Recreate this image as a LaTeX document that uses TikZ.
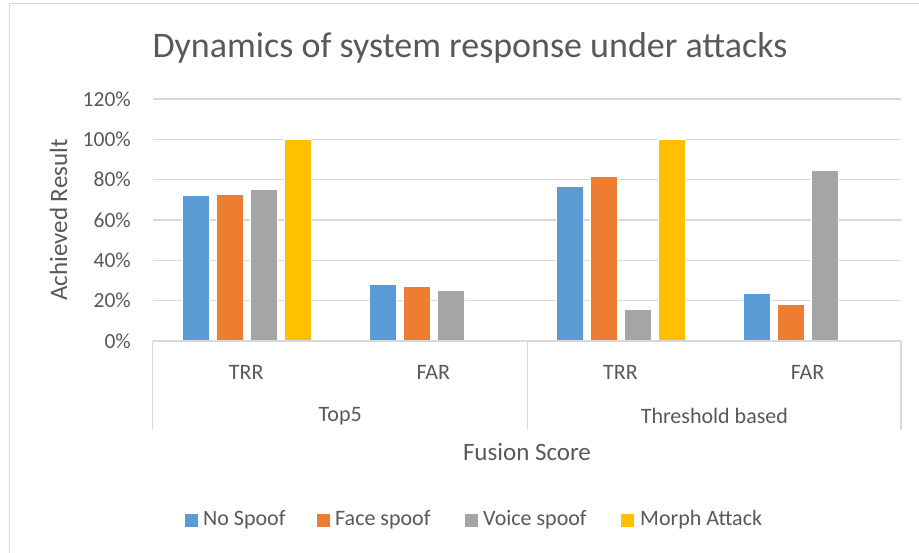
\documentclass[tikz,border=0pt]{standalone}
\usepackage{fontspec}
\setmainfont{Carlito}
\definecolor{cblue}{HTML}{5B9BD5}
\definecolor{corange}{HTML}{ED7D31}
\definecolor{cgray}{HTML}{A5A5A5}
\definecolor{cyellow}{HTML}{FFC000}
\definecolor{gridc}{HTML}{D9D9D9}
\definecolor{txt}{HTML}{595959}
\tikzset{
  gridline/.style={draw=gridc, line width=1.3pt},
  axisline/.style={draw=gridc, line width=1.3pt},
  barbox/.style={draw=white, line width=0.8pt},
  ticklbl/.style={text=txt, font=\fontsize{21.5}{24}\selectfont, anchor=east, inner sep=0pt},
  catlbl/.style={text=txt, font=\fontsize{22}{24}\selectfont, inner sep=0pt},
  ttl/.style={text=txt, font=\fontsize{36}{40}\selectfont, inner sep=0pt},
  axttl/.style={text=txt, font=\fontsize{25}{28}\selectfont, inner sep=0pt},
  legsq/.style={inner sep=0pt, minimum size=13pt},
  leglbl/.style={text=txt, font=\fontsize{22}{24}\selectfont, anchor=west, inner sep=0pt},
}
\newcommand{\mybar}[3]{% center x, value, colour
  \filldraw[barbox, fill=#3] ({#1-13.5},341) rectangle ({#1+13.5},{341-2.017*#2});}
\begin{document}
\begin{tikzpicture}[x=1pt,y=-1pt]
\useasboundingbox (0,0) rectangle (919,552);
\fill[white] (0,0) rectangle (919,552);
% chart frame (clipped on right/bottom)
\draw[gridc, line width=1pt] (9.3,560) -- (9.3,3.3) -- (930,3.3);
% gridlines
\foreach \v in {20,40,60,80,100,120}
  \draw[gridline] (152.7,{341-2.017*\v}) -- (901,{341-2.017*\v});
% tick labels
\foreach \v/\n in {0/t0,20/t20,40/t40,60/t60,80/t80,100/t100,120/t120}
  \node[ticklbl] (\n) at (131,{341-2.017*\v}) {\v\%};
% bars
\mybar{195.7}{72}{cblue}
\mybar{229.7}{72.7}{corange}
\mybar{263.7}{75}{cgray}
\mybar{297.7}{100}{cyellow}
\mybar{382.8}{28}{cblue}
\mybar{416.8}{27.3}{corange}
\mybar{450.8}{25}{cgray}
\mybar{569.9}{76.5}{cblue}
\mybar{603.9}{81.8}{corange}
\mybar{637.9}{15.5}{cgray}
\mybar{671.9}{100}{cyellow}
\mybar{757.1}{23.5}{cblue}
\mybar{791.1}{18.2}{corange}
\mybar{825.1}{84.5}{cgray}
% axis
\draw[axisline] (152.7,341) -- (901,341);
\draw[axisline] (152.7,341) -- (152.7,430);
\draw[axisline] (527.8,341) -- (527.8,430);
\draw[axisline] (901,341) -- (901,430);
% category labels
\node[catlbl] (c1) at (246.2,372) {TRR};
\node[catlbl] (c2) at (433.3,372) {FAR};
\node[catlbl] (c3) at (620.4,372) {TRR};
\node[catlbl] (c4) at (807.6,372) {FAR};
\node[catlbl] (g1) at (340.2,416) {Top5};
\node[catlbl] (g2) at (714.4,416) {Threshold based};
% titles
\node[ttl] (title) at (470,48) {Dynamics of system response under attacks};
\node[axttl, rotate=90] (ytitle) at (58.5,220) {Achieved Result};
\node[axttl] (xtitle) at (527,452) {Fusion Score};
% legend
\node[legsq, fill=cblue] (l1) at (191.5,520) {};
\node[leglbl] (l1t) at (203,520) {No Spoof};
\node[legsq, fill=corange] (l2) at (323,520) {};
\node[leglbl] (l2t) at (335,520) {Face spoof};
\node[legsq, fill=cgray] (l3) at (471.5,520) {};
\node[leglbl] (l3t) at (483,520) {Voice spoof};
\node[legsq, fill=cyellow] (l4) at (627.5,520) {};
\node[leglbl] (l4t) at (640,520) {Morph Attack};
\end{tikzpicture}
\end{document}
